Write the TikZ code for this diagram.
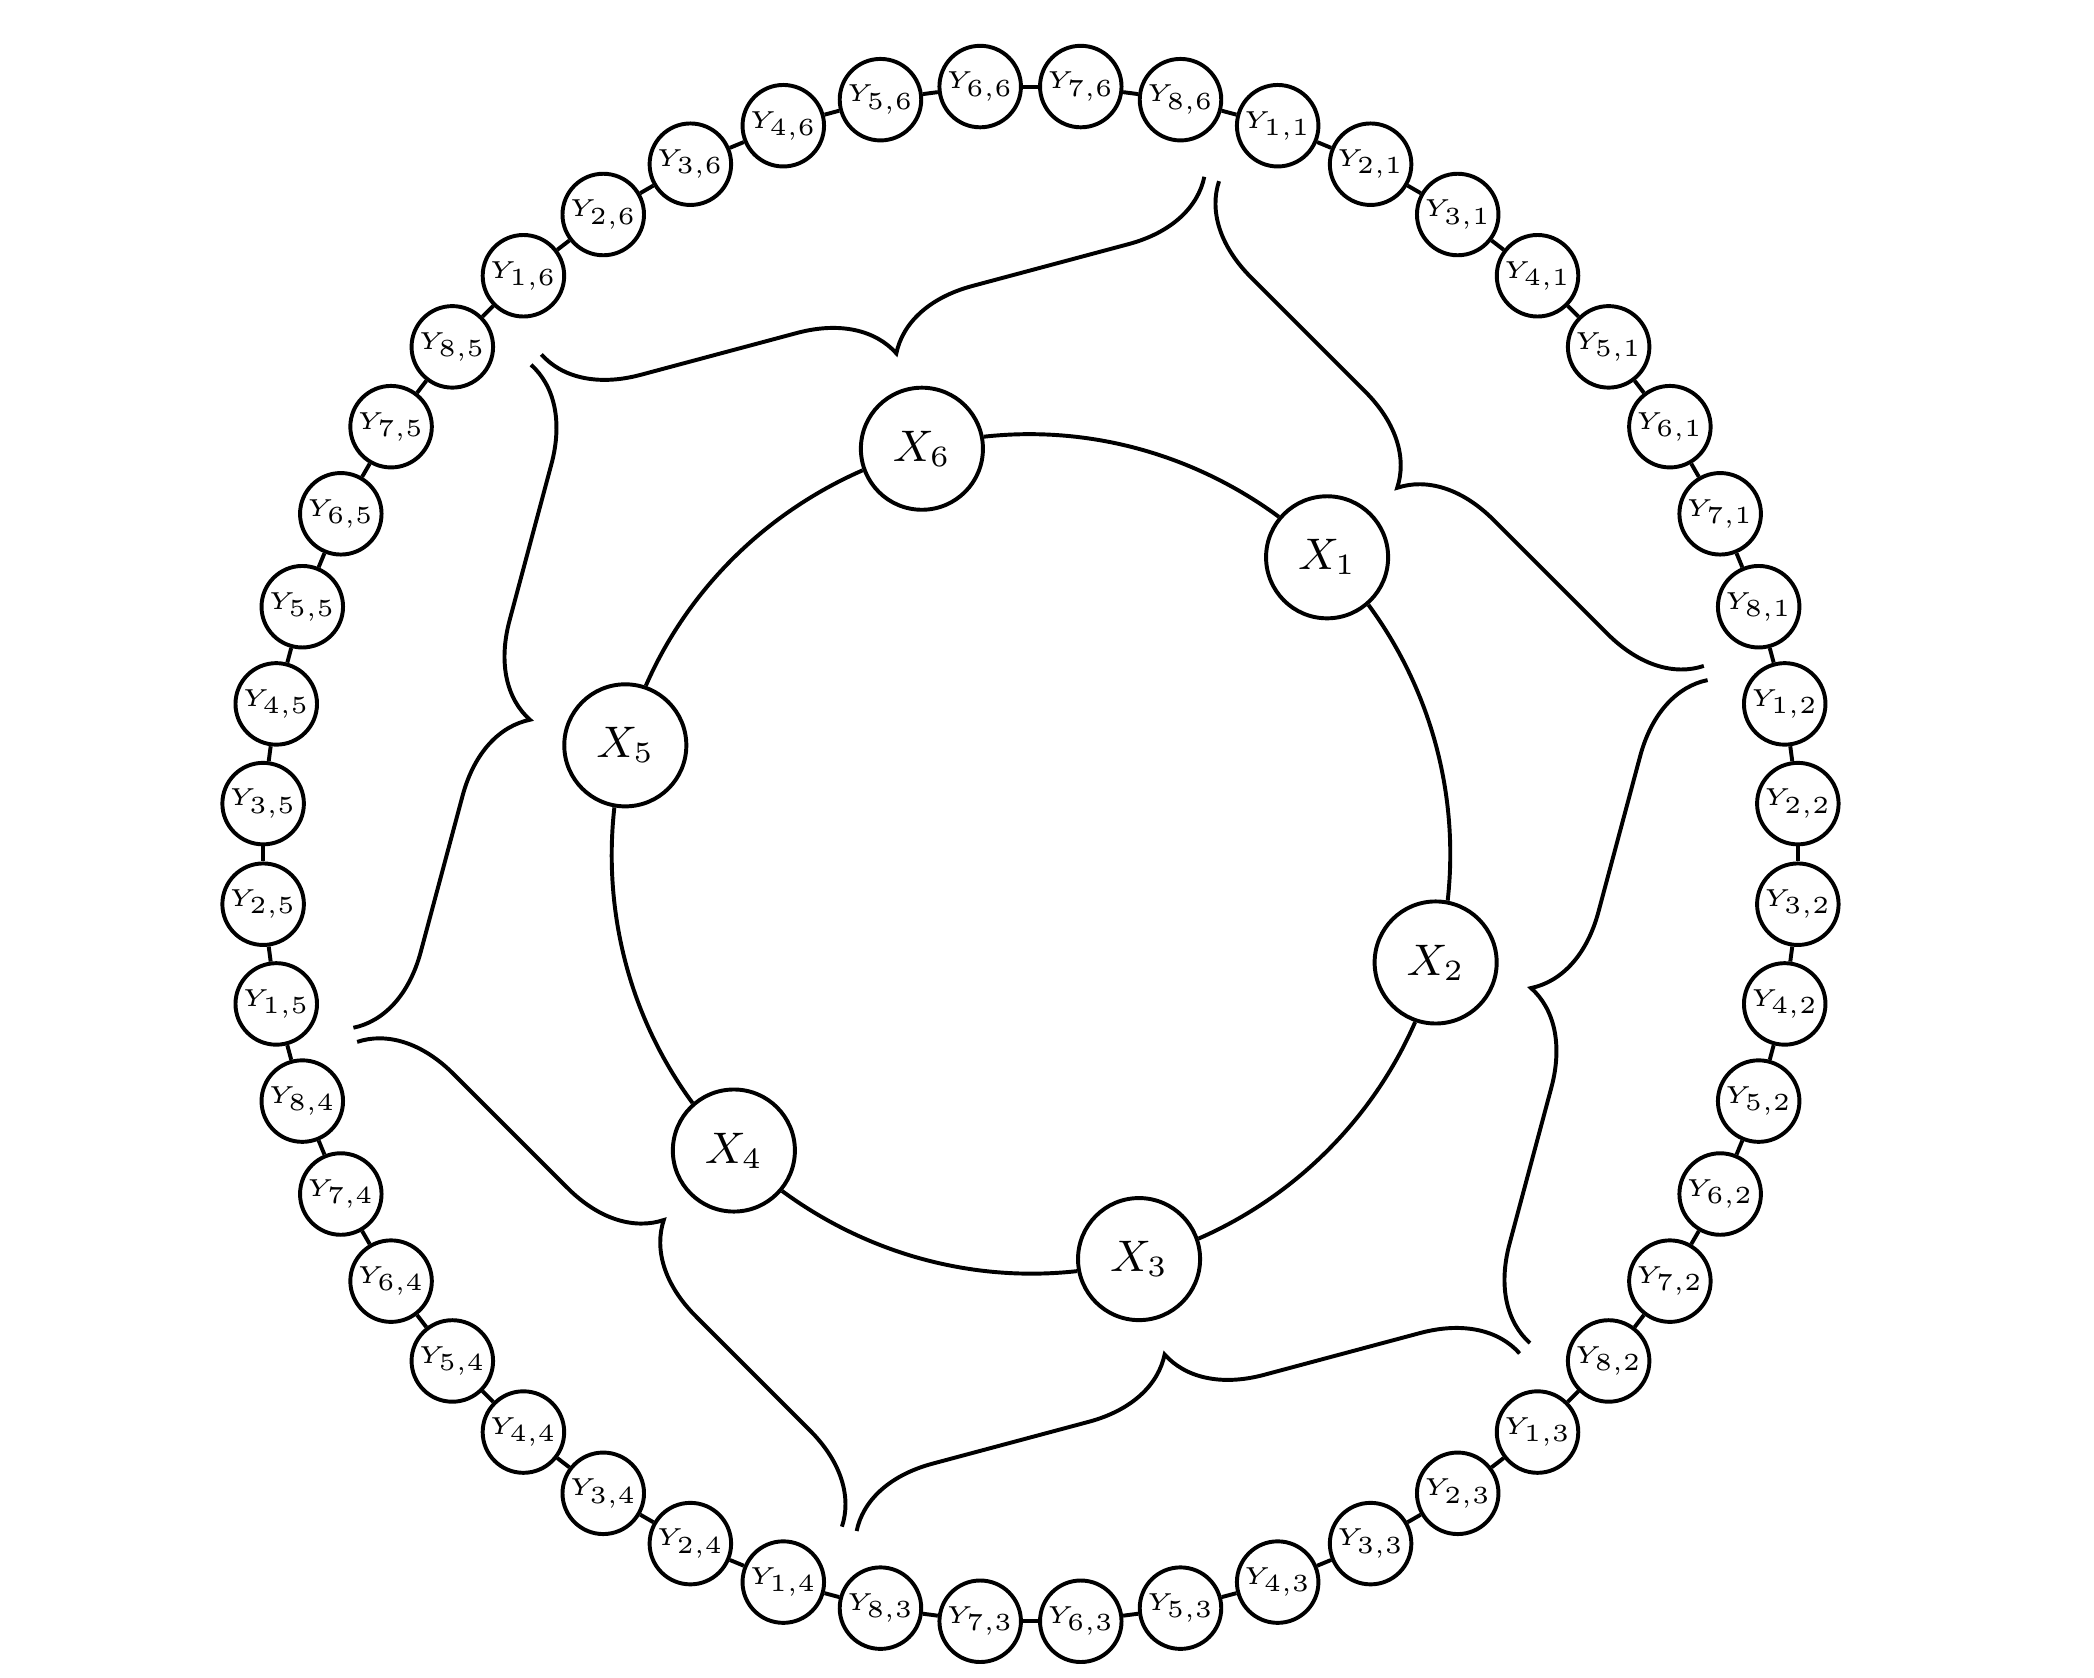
\documentclass[tikz,border=0pt]{standalone}
\usetikzlibrary{decorations.pathreplacing}
\begin{document}
\begin{tikzpicture}[
  ynode/.style={circle, draw, thick, fill=white, minimum size=0.583cm, inner sep=0pt, font=\tiny},
  xnode/.style={circle, draw, thick, fill=white, minimum size=0.873cm, inner sep=0pt, font=\small},
  chainline/.style={thick},
  ring/.style={thick},
  bracepath/.style={thick, decorate, decoration={brace, amplitude=0.65cm}}
]
\useasboundingbox (-7.370,-5.893) rectangle (7.606,6.107);
% inner nodes
\foreach \k in {1,...,6}
  \node[xnode] (X\k) at ({45-60*(\k-1)}:3) {$X_{\k}$};
% ring arcs (circle of radius 3 between the node borders)
\def\dl{8.614}
\foreach \k in {1,...,6} {
  \pgfmathtruncatemacro{\kn}{mod(\k,6)+1}
  \pgfmathsetmacro{\th}{45-60*(\k-1)}
  \pgfmathsetmacro{\sa}{\th-90-\dl/2}
  \pgfmathsetmacro{\ea}{\th-60+90+\dl/2}
  \pgfmathsetmacro{\sc}{\th-\dl-90}
  \pgfmathsetmacro{\ec}{\th-60+\dl+90}
  \draw[ring] (X\k.\sa) .. controls +(\sc:0.7554) and +(\ec:0.7554) .. (X\kn.\ea);
}
% outer nodes
\foreach \j in {1,...,6}
  \foreach \i in {1,...,8}
    \node[ynode] (Y\i-\j) at ({71.25-60*(\j-1)-7.5*(\i-1)}:5.5) {$Y_{\i,\j}$};
\foreach \j in {1,...,6} {
  \foreach \i in {1,...,7} {
    \pgfmathtruncatemacro{\inext}{\i+1}
    \draw[chainline] (Y\i-\j) -- (Y\inext-\j);
  }
  \pgfmathtruncatemacro{\jn}{mod(\j,6)+1}
  \draw[chainline] (Y8-\j) -- (Y1-\jn);
}
% braces
\foreach \j in {1,...,6} {
  \coordinate (Bs\j) at ({15.6-60*(\j-1)}:5);
  \coordinate (Be\j) at ({74.4-60*(\j-1)}:5);
  \draw[bracepath] (Bs\j) -- (Be\j);
}
\end{tikzpicture}
\end{document}
